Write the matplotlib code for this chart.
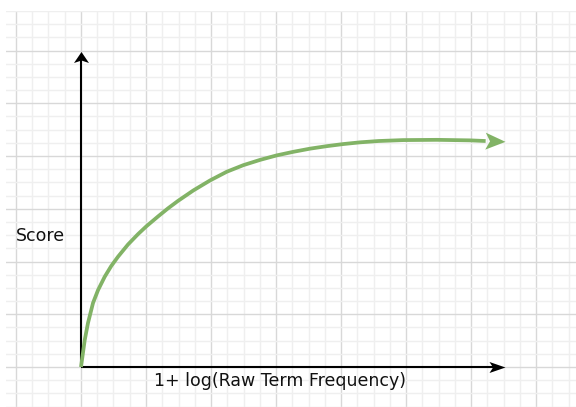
import numpy as np
import matplotlib.pyplot as plt
from matplotlib.path import Path
from matplotlib.markers import MarkerStyle
from matplotlib.transforms import Affine2D
from matplotlib.ticker import MultipleLocator

# curve, in grid cells from the origin
curve_x = [0.0, 0.23, 0.43, 0.74, 1.05, 1.46, 1.86, 2.28, 2.89, 3.51, 4.02,
           4.74, 5.35, 5.97, 6.91, 7.94, 8.97, 9.99, 11.02, 12.04, 13.06,
           14.09, 15.12, 16.14, 17.17, 18.30, 19.82, 21.89, 23.94, 24.9]
curve_y = [0.0, 2.05, 3.34, 4.86, 5.84, 6.85, 7.66, 8.37, 9.29, 10.08, 10.67,
           11.42, 12.03, 12.60, 13.39, 14.15, 14.81, 15.31, 15.71, 16.05, 16.32,
           16.56, 16.75, 16.91, 17.04, 17.14, 17.21, 17.23, 17.19, 17.14]
curve_tip = (26.09, 17.09)
x_axis_end = 26.09
y_axis_end = 23.92
x_label = "1+ log(Raw Term Frequency)"
y_label = "Score"

green = "#82b366"
fs = 12.5
PX = 2 * 72 / 100  # marker size so that one path unit is one pixel

fig = plt.figure(figsize=(5.76, 4.07), dpi=100)
ax = fig.add_axes([6 / 576, 0, 570 / 576, 396 / 407])
ax.set_xlim(-4.615, 30.46)
ax.set_ylim(-3.03, 27.0)

ax.xaxis.set_major_locator(MultipleLocator(4))
ax.xaxis.set_minor_locator(MultipleLocator(1))
ax.yaxis.set_major_locator(MultipleLocator(4))
ax.yaxis.set_minor_locator(MultipleLocator(1))
ax.grid(which="minor", color="#efefef", lw=1)
ax.grid(which="major", color="#d8d8d8", lw=1)
ax.set_axisbelow(True)
ax.tick_params(which="both", length=0, labelbottom=False, labelleft=False)
for s in ax.spines.values():
    s.set_visible(False)

# drawio "classic" arrow head, tip at (1, 0)
head = Path([(1, 0), (-1, 1), (-0.55, 0), (-1, -1), (1, 0)],
            [Path.MOVETO, Path.LINETO, Path.LINETO, Path.LINETO, Path.CLOSEPOLY])


def arrow(x, y, length, width, angle, color):
    # length / width in pixels, marker centred half a length behind the tip
    m = MarkerStyle(head, transform=Affine2D().scale(length / 2, width / 2).rotate_deg(angle))
    tr = ax.transData + Affine2D().translate(-length / 2 * np.cos(np.radians(angle)),
                                             -length / 2 * np.sin(np.radians(angle)))
    ax.plot([x], [y], marker=m, ms=PX, color=color, mew=0, transform=tr, clip_on=False)


# axes of the sketch
ax.plot([0, 0], [0, y_axis_end - 0.5], color="black", lw=1.5, solid_capstyle="butt")
ax.plot([0, x_axis_end - 0.6], [0, 0], color="black", lw=1.5, solid_capstyle="butt")
arrow(0, y_axis_end, 11, 15, 90, "black")
arrow(x_axis_end, 0, 16, 11, 0, "black")

# score curve
ax.plot(curve_x, curve_y, color=green, lw=2.7, solid_capstyle="butt", solid_joinstyle="round")
arrow(curve_tip[0], curve_tip[1], 20, 17, -2, green)

ax.text(-4.0, 9.9, y_label, fontsize=fs, family="DejaVu Sans", color="#111111",
        ha="left", va="center")
ax.text(12.26, -1.05, x_label, fontsize=fs, family="DejaVu Sans", color="#111111",
        ha="center", va="center")

fig.savefig("out.png", dpi=100, facecolor="white")
